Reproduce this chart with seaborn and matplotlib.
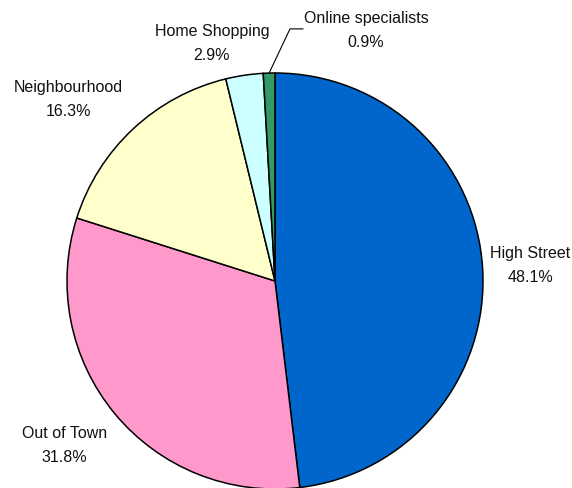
import numpy as np
import matplotlib
matplotlib.use("Agg")
import matplotlib.pyplot as plt
import seaborn as sns
from matplotlib import font_manager

categories = ["High Street", "Out of Town", "Neighbourhood", "Home Shopping", "Online specialists"]
shares = [48.1, 31.8, 16.3, 2.9, 0.9]
colors = ["#0066CC", "#FF99CC", "#FFFFCC", "#CCFFFF", "#339966"]

sns.set_theme(style="white")
names = {f.name for f in font_manager.fontManager.ttflist}
family = "Liberation Sans Narrow" if "Liberation Sans Narrow" in names else "Liberation Sans"
plt.rcParams["font.family"] = [family, "DejaVu Sans"]

fig = plt.figure(figsize=(5.72, 4.89), dpi=100)
ax = fig.add_axes([0, 0, 1, 1])

wedges, _ = ax.pie(shares, colors=colors, startangle=90, counterclock=False,
                   radius=1.0, center=(0, 0),
                   wedgeprops=dict(edgecolor="black", linewidth=1.1))
ax.set_xlim(-275 / 208, (572 - 275) / 208)
ax.set_ylim(-(489 - 282) / 208, 282 / 208)
ax.set_aspect("equal")
ax.axis("off")

label_pos = [(1.226, 0.077), (-1.014, -0.786), (-0.995, 0.878),
             (-0.303, 1.149), (0.4375, 1.209)]
for cat, val, (x, y) in zip(categories, shares, label_pos):
    ax.text(x, y, f"{cat}\n{val:.1f}%", ha="center", va="center",
            fontsize=11.5, color="#111111", linespacing=1.75)

# leader line for the thin online slice
w = wedges[4]
mid = np.deg2rad((w.theta1 + w.theta2) / 2)
x0, y0 = np.cos(mid), np.sin(mid)
ax.plot([x0, 0.072, 0.135], [y0, 1.212, 1.212], color="black", lw=0.8)

fig.savefig("out.png", dpi=100)
